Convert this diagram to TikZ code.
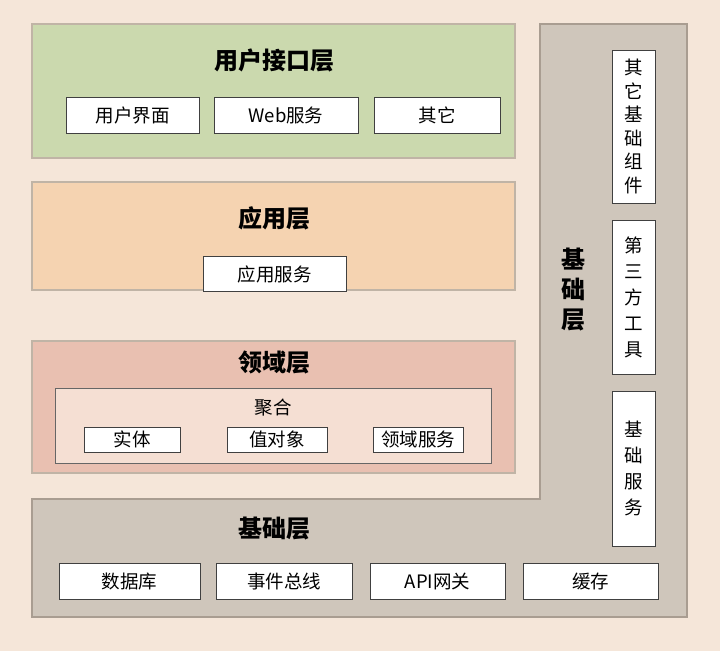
\documentclass[tikz,border=0pt]{standalone}
\usepackage{fontspec}
\setmainfont{Noto Sans CJK SC}
\begin{document}
\begin{tikzpicture}[x=1pt,y=-1pt,
  layer/.style={draw=layerline,line width=1.5pt},
  item/.style={draw=black!75,fill=white,line width=0.8pt,inner sep=0pt,font=\fontsize{18.5}{22}\selectfont},
  ttl/.style={font=\fontsize{24}{28}\selectfont\bfseries}]
\definecolor{bg}{HTML}{F5E6D9}
\definecolor{layerline}{HTML}{C0B4A6}
\definecolor{gr}{HTML}{CBD9AE}
\definecolor{og}{HTML}{F5D3B1}
\definecolor{rd}{HTML}{E9C0B1}
\definecolor{rdin}{HTML}{F5DFD3}
\definecolor{gy}{HTML}{CFC6BB}
\definecolor{gyline}{HTML}{A99D91}
\fill[bg] (0,0) rectangle (720,651);
\useasboundingbox (0,0) rectangle (720,651);
% layers
\draw[layer,fill=gr] (32,24) rectangle (515,158);
\draw[layer,fill=og] (32,182) rectangle (515,290);
\draw[layer,fill=rd] (32,341) rectangle (515,473);
\draw[draw=gyline,line width=1.5pt,fill=gy] (32,499)--(540,499)--(540,24)--(687,24)--(687,617)--(32,617)--cycle;
% titles
\node[ttl] (t1) at (274,60) {用户接口层};
\node[ttl] (t2) at (274,218) {应用层};
\node[ttl] (t3) at (274,362) {领域层};
\node[ttl] (t4) at (274,529) {基础层};
\node[ttl,align=center,font=\fontsize{24}{30}\selectfont\bfseries] (t5) at (573,290) {基\\础\\层};
% UI items
\node[item,minimum width=133,minimum height=36] (a1) at (132.5,115) {用户界面};
\node[item,minimum width=144,minimum height=36] (a2) at (286,115) {Web服务};
\node[item,minimum width=126,minimum height=36] (a3) at (437,115) {其它};
\node[item,minimum width=143,minimum height=35] (b1) at (274.5,274) {应用服务};
% domain
\draw[draw=black!60,line width=0.8pt,fill=rdin] (55,388) rectangle (491,463);
\node[font=\fontsize{18.5}{22}\selectfont] (jh) at (273,408) {聚合};
\node[item,minimum width=96,minimum height=25] (c1) at (132,439.5) {实体};
\node[item,minimum width=100,minimum height=25] (c2) at (277,439.5) {值对象};
\node[item,minimum width=90,minimum height=25] (c3) at (418,439.5) {领域服务};
% infra bottom
\node[item,minimum width=141,minimum height=36] (d1) at (129.5,581) {数据库};
\node[item,minimum width=136,minimum height=36] (d2) at (284,581) {事件总线};
\node[item,minimum width=135,minimum height=36] (d3) at (437.5,581) {API网关};
\node[item,minimum width=135,minimum height=36] (d4) at (590.5,581) {缓存};
% infra right
\node[item,align=center,minimum width=43,minimum height=153,font=\fontsize{18.5}{23.5}\selectfont] (e1) at (633.5,126.5) {其\\它\\基\\础\\组\\件};
\node[item,align=center,minimum width=43,minimum height=154,font=\fontsize{18.5}{26}\selectfont] (e2) at (633.5,297) {第\\三\\方\\工\\具};
\node[item,align=center,minimum width=43,minimum height=155,font=\fontsize{18.5}{26}\selectfont] (e3) at (633.5,468.5) {基\\础\\服\\务};
\end{tikzpicture}
\end{document}
